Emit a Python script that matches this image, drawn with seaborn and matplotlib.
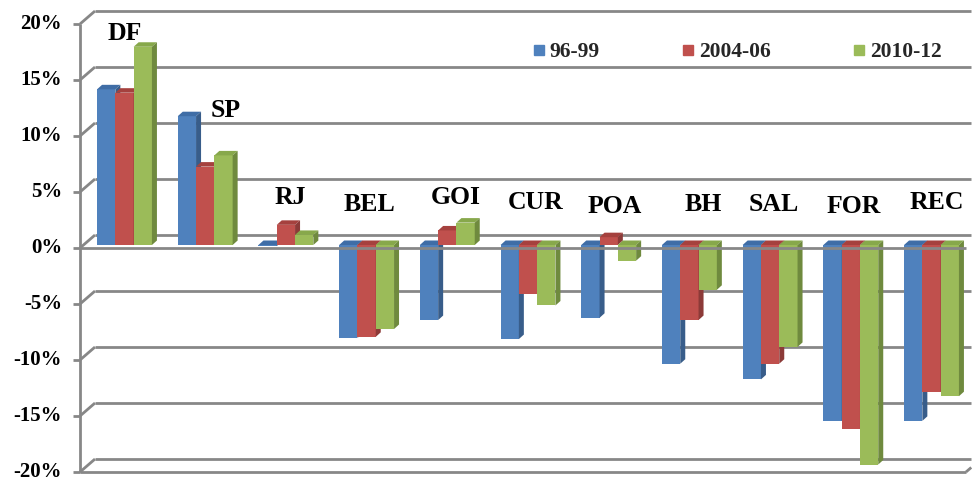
import numpy as np
import pandas as pd
import matplotlib
matplotlib.use("Agg")
import matplotlib.pyplot as plt
import seaborn as sns
from matplotlib.lines import Line2D
from matplotlib.patches import Polygon
from matplotlib.transforms import IdentityTransform
from matplotlib.font_manager import FontProperties

# ---- data -------------------------------------------------------------
cities = ["DF", "SP", "RJ", "BEL", "GOI", "CUR", "POA", "BH", "SAL", "FOR", "REC"]
periods = ["96-99", "2004-06", "2010-12"]
v_96_99 = [13.9, 11.5, -0.1, -8.3, -6.7, -8.4, -6.5, -10.6, -12.0, -15.7, -15.7]
v_2004_06 = [13.6, 7.0, 1.8, -8.2, 1.3, -4.4, 0.7, -6.7, -10.6, -16.4, -13.1]
v_2010_12 = [17.7, 8.0, 0.9, -7.5, 2.0, -5.4, -1.4, -4.0, -9.1, -19.6, -13.5]
yticks = [20, 15, 10, 5, 0, -5, -10, -15, -20]
ytick_labels = [f"{t}%" for t in yticks]

# ---- styling / layout ------------------------------------------------
front_colors = ["#4F81BD", "#C0504D", "#9BBB59"]
side_colors = ["#385D8A", "#8C3A38", "#6F8A3E"]
top_colors = ["#3F6DA6", "#A5413E", "#87A84B"]
grid_color = "#878787"
grid_lw = 2.0

# label nudges (category units) and heights (%) for the city names
label_dx = [0.0, 0.26, 0.06, 0.04, 0.11, 0.10, 0.08, 0.17, 0.04, 0.03, 0.06]
label_y = [18.9, 12.05, 4.2, 3.6, 4.2, 3.8, 3.4, 3.6, 3.6, 3.4, 3.8]

W, H = 972, 482
ZERO_PX, PX_PER_PCT = 245.0, 11.2
CAT0_PX, CAT_STEP_PX = 124.5, 80.7
AX_LEFT_PX, AX_RIGHT_PX, AX_TOP_PX, AX_BOT_PX = 84, 960, 20, 475
FRONT = np.array([-4.0, -3.0])   # front (axis) plane offset, display px
BACK = np.array([11.0, 10.0])    # back wall offset, display px
DEPTH = np.array([5.0, 4.5])     # bar depth, display px
FRONT_RIGHT_PX = 966

sns.set_style("white")
plt.rcParams["font.family"] = ["Liberation Serif", "DejaVu Serif"]
plt.rcParams["font.weight"] = "bold"

df = pd.DataFrame({
    "city": cities * 3,
    "period": np.repeat(periods, len(cities)),
    "value": v_96_99 + v_2004_06 + v_2010_12,
})

fig = plt.figure(figsize=(W / 100, H / 100), dpi=100)
ax = fig.add_axes([AX_LEFT_PX / W, 1 - AX_BOT_PX / H,
                   (AX_RIGHT_PX - AX_LEFT_PX) / W, (AX_BOT_PX - AX_TOP_PX) / H])

sns.barplot(data=df, x="city", y="value", hue="period", order=cities,
            hue_order=periods, palette=front_colors, saturation=1,
            width=0.68, errorbar=None, legend=False, linewidth=0, ax=ax)

xl = (AX_LEFT_PX - CAT0_PX) / CAT_STEP_PX
xr = (AX_RIGHT_PX - CAT0_PX) / CAT_STEP_PX
ytop = (ZERO_PX - AX_TOP_PX) / PX_PER_PCT
ybot = -(AX_BOT_PX - ZERO_PX) / PX_PER_PCT
ax.set_xlim(xl, xr)
ax.set_ylim(ybot, ytop)
ax.set_autoscale_on(False)
ax.axis("off")

ident = IdentityTransform()


def disp(x, y):
    return np.array(ax.transData.transform((x, y)), dtype=float)


def seg(p, q, z):
    ax.add_line(Line2D([p[0], q[0]], [p[1], q[1]], color=grid_color, lw=grid_lw,
                       transform=ident, clip_on=False, zorder=z,
                       solid_capstyle="butt"))


# back wall gridlines and the diagonal ticks linking them to the front axis
for t, lab in zip(yticks, ytick_labels):
    b0 = disp(xl, t) + BACK
    b1 = disp(xr, t) + BACK
    seg(b0, b1, 0.5)
    f0 = disp(xl, t) + FRONT
    seg(f0, b0, 4)
    seg(f0 - np.array([7.0, 0.0]), f0, 4)
    ax.text(62, f0[1], lab, transform=ident,
            ha="right", va="center", fontsize=15, fontweight="bold",
            color="black", clip_on=False)

# front axis, zero line and floor edge
seg(disp(xl, max(yticks)) + FRONT, disp(xl, min(yticks)) + FRONT, 5)
z0 = disp(xl, 0) + FRONT
seg(z0, np.array([FRONT_RIGHT_PX, z0[1]]), 5)
fl = disp(xl, min(yticks)) + FRONT
fr = np.array([FRONT_RIGHT_PX, fl[1]])
seg(fl, fr, 5)
seg(fr, fr + (BACK - FRONT) * 0.35, 5)

# extrude every bar: side and top faces, stacked left to right
bars = []
for k, cont in enumerate(ax.containers):
    for bar in cont:
        bars.append((bar.get_x(), k, bar))
bars.sort(key=lambda b: b[0])
for rank, (x0, k, bar) in enumerate(bars):
    z = 2 + rank * 0.01
    bar.set_zorder(z)
    w = bar.get_width()
    h = bar.get_y() + bar.get_height()
    top, bottom = max(0.0, h), min(0.0, h)
    tl, tr_ = disp(x0, top), disp(x0 + w, top)
    br = disp(x0 + w, bottom)
    ax.add_patch(Polygon([tl, tr_, tr_ + DEPTH, tl + DEPTH], closed=True,
                         facecolor=top_colors[k], edgecolor="none",
                         transform=ident, zorder=z + 0.005, clip_on=False))
    ax.add_patch(Polygon([tr_, tr_ + DEPTH, br + DEPTH, br], closed=True,
                         facecolor=side_colors[k], edgecolor="none",
                         transform=ident, zorder=z + 0.005, clip_on=False))

# city names above / beside the groups
for i, name in enumerate(cities):
    ax.text(i + label_dx[i], label_y[i], name, ha="center", va="center",
            fontsize=18.5, fontweight="bold", color="black", zorder=6)

handles = [Line2D([], [], marker="s", linestyle="none", markersize=7.2,
                  markerfacecolor=c, markeredgecolor=c) for c in front_colors]
fig.legend(handles, periods, loc="center", bbox_to_anchor=(737 / W, 1 - 52 / H),
           ncol=3, frameon=False,
           prop=FontProperties(family="Liberation Serif", weight="bold", size=15.5),
           handlelength=0.6, handletextpad=0.2, columnspacing=3.8,
           borderpad=0, borderaxespad=0)

ax.set_xlim(xl, xr)
ax.set_ylim(ybot, ytop)
fig.savefig("out.png", dpi=100)
